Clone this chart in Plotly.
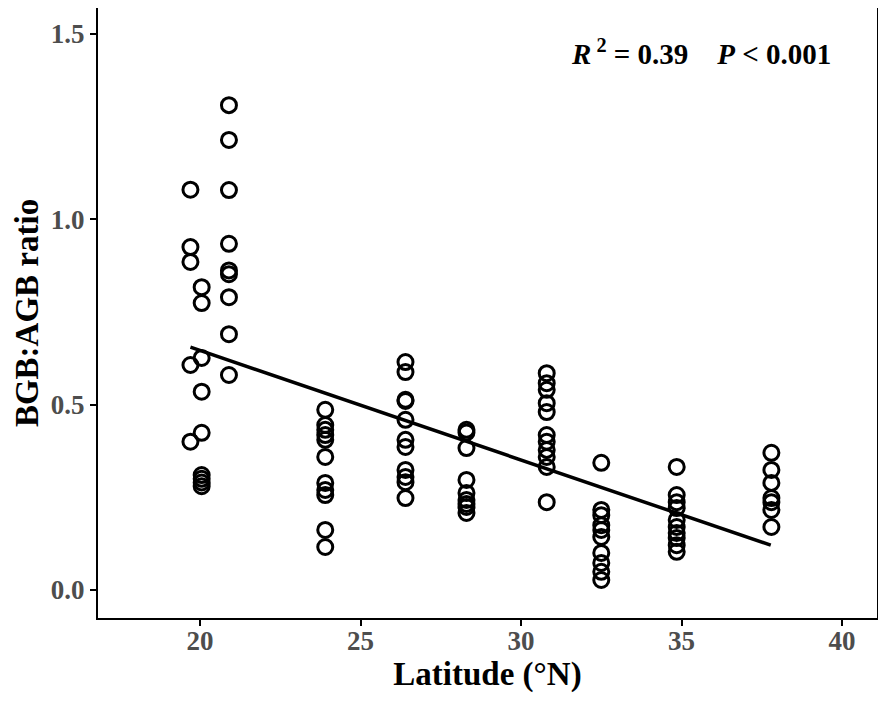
import plotly.graph_objects as go

# latitude (°N) of each sampling site and measured BGB:AGB ratios
lat_1a = [19.7] * 5
ratio_1a = [1.080, 0.925, 0.885, 0.607, 0.400]
lat_1b = [20.05] * 9
ratio_1b = [0.817, 0.774, 0.626, 0.535, 0.424, 0.310, 0.300, 0.290, 0.280]
lat_1c = [20.9] * 9
ratio_1c = [1.308, 1.214, 1.079, 0.934, 0.862, 0.852, 0.790, 0.690, 0.580]
lat_2 = [23.9] * 11
ratio_2 = [0.486, 0.445, 0.432, 0.418, 0.405, 0.359, 0.289, 0.270, 0.256, 0.162, 0.116]
lat_3 = [26.4] * 11
ratio_3 = [0.615, 0.588, 0.513, 0.510, 0.459, 0.405, 0.386, 0.324, 0.305, 0.291, 0.248]
lat_4 = [28.3] * 9
ratio_4 = [0.432, 0.425, 0.383, 0.297, 0.262, 0.243, 0.232, 0.224, 0.208]
lat_5 = [30.8] * 11
ratio_5 = [0.585, 0.558, 0.540, 0.504, 0.480, 0.418, 0.400, 0.378, 0.359, 0.332, 0.237]
lat_6 = [32.5] * 10
ratio_6 = [0.343, 0.216, 0.202, 0.175, 0.162, 0.143, 0.100, 0.073, 0.049, 0.027]
lat_7 = [34.85] * 10
ratio_7 = [0.332, 0.256, 0.237, 0.221, 0.189, 0.170, 0.154, 0.140, 0.121, 0.103]
lat_8 = [37.8] * 7
ratio_8 = [0.370, 0.324, 0.289, 0.248, 0.237, 0.216, 0.170]

# fitted regression line
fit_lat = [19.7, 37.78]
fit_ratio = [0.655, 0.121]

lat = lat_1a + lat_1b + lat_1c + lat_2 + lat_3 + lat_4 + lat_5 + lat_6 + lat_7 + lat_8
ratio = (ratio_1a + ratio_1b + ratio_1c + ratio_2 + ratio_3 + ratio_4
         + ratio_5 + ratio_6 + ratio_7 + ratio_8)

x_ticks = [20, 25, 30, 35, 40]
y_ticks = [0.0, 0.5, 1.0, 1.5]

serif = 'Liberation Serif'

fig = go.Figure()
fig.add_trace(go.Scatter(
    x=lat, y=ratio, mode='markers',
    marker=dict(symbol='circle-open', size=15, color='black', line=dict(width=3, color='black')),
    showlegend=False,
))
fig.add_trace(go.Scatter(
    x=fit_lat, y=fit_ratio, mode='lines',
    line=dict(color='black', width=3.5),
    showlegend=False,
))

axis_common = dict(
    showline=True, linecolor='black', linewidth=2, mirror=True,
    showgrid=False, zeroline=False, automargin=False,
    ticks='outside', ticklen=6, tickwidth=2, tickcolor='black',
    tickfont=dict(family=serif, size=27, color='#4d4d4d', weight='bold'),
)

# page body has an 8px margin, so the figure is sized to fit inside the window
fig.update_layout(
    width=870, height=685,
    margin=dict(l=90, r=1, t=0, b=75),
    plot_bgcolor='white', paper_bgcolor='white',
    xaxis=dict(
        range=[16.82, 41.09], tickvals=x_ticks, ticktext=[str(v) for v in x_ticks],
        ticklabelstandoff=-8,
        title=dict(text='Latitude (°N)', font=dict(family=serif, size=33, color='black', weight='bold'),
                   standoff=0),
        **axis_common,
    ),
    yaxis=dict(
        range=[-0.0755, 1.570], tickvals=y_ticks, ticktext=['%.1f' % v for v in y_ticks],
        ticklabelstandoff=0,
        title=dict(text='BGB:AGB ratio', font=dict(family=serif, size=33, color='black', weight='bold'),
                   standoff=2),
        **axis_common,
    ),
    annotations=[dict(
        text='<i>R</i><sup> 2</sup> = 0.39&nbsp;&nbsp;&nbsp;&nbsp;<i>P</i> &lt; 0.001',
        xref='paper', yref='paper', x=0.9435, y=0.928, xanchor='right', yanchor='middle',
        showarrow=False, font=dict(family=serif, size=29, color='black', weight='bold'),
    )],
)

fig.write_html("out.html")
